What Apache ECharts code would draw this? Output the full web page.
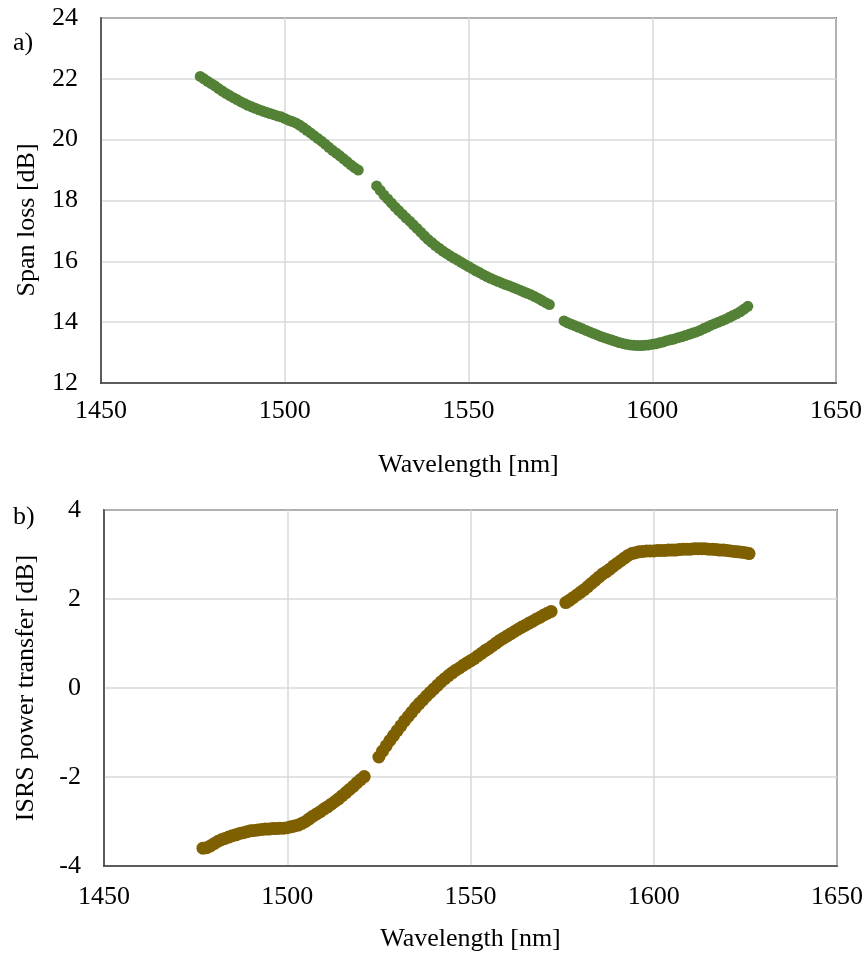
<!DOCTYPE html>
<html>
<head>
<meta charset="utf-8">
<script src="https://cdn.jsdelivr.net/npm/echarts@6/dist/echarts.min.js"></script>
<style>
  html, body { margin: 0; padding: 0; background: #fff; }
  #chart { width: 867px; height: 954px; }
</style>
</head>
<body>
<div id="chart"></div>
<script>
// a) span loss: wavelength [nm] and loss [dB]
var spanWavelength = [
  1477, 1478, 1479, 1480, 1481, 1482, 1483, 1484, 1485, 1486, 1487, 1488, 1489, 1490, 1491,
  1492, 1493, 1494, 1495, 1496, 1497, 1498, 1499, 1500, 1501, 1502, 1503, 1504, 1505, 1506,
  1507, 1508, 1509, 1510, 1511, 1512, 1513, 1514, 1515, 1516, 1517, 1518, 1519, 1520,
  1525, 1526, 1527, 1528, 1529, 1530, 1531, 1532, 1533, 1534, 1535, 1536, 1537, 1538, 1539,
  1540, 1541, 1542, 1543, 1544, 1545, 1546, 1547, 1548, 1549, 1550, 1551, 1552, 1553, 1554,
  1555, 1556, 1557, 1558, 1559, 1560, 1561, 1562, 1563, 1564, 1565, 1566, 1567, 1568, 1569,
  1570, 1571, 1572,
  1576, 1577, 1578, 1579, 1580, 1581, 1582, 1583, 1584, 1585, 1586, 1587, 1588, 1589, 1590,
  1591, 1592, 1593, 1594, 1595, 1596, 1597, 1598, 1599, 1600, 1601, 1602, 1603, 1604, 1605,
  1606, 1607, 1608, 1609, 1610, 1611, 1612, 1613, 1614, 1615, 1616, 1617, 1618, 1619, 1620,
  1621, 1622, 1623, 1624, 1625, 1626
];
var spanLoss = [
  22.08, 22.0, 21.92, 21.84, 21.77, 21.68, 21.6, 21.52, 21.45, 21.38, 21.32, 21.25, 21.19, 21.13, 21.08,
  21.03, 20.98, 20.94, 20.9, 20.86, 20.82, 20.78, 20.75, 20.7, 20.64, 20.6, 20.55, 20.48, 20.4, 20.31,
  20.22, 20.13, 20.04, 19.95, 19.85, 19.75, 19.65, 19.56, 19.47, 19.37, 19.27, 19.17, 19.08, 19.0,
  18.48, 18.33, 18.18, 18.05, 17.92, 17.79, 17.67, 17.55, 17.43, 17.32, 17.2, 17.08, 16.96, 16.84, 16.72,
  16.62, 16.52, 16.43, 16.34, 16.26, 16.18, 16.11, 16.04, 15.97, 15.9, 15.83, 15.76, 15.69, 15.63, 15.56,
  15.5, 15.44, 15.39, 15.34, 15.29, 15.24, 15.2, 15.15, 15.1, 15.05, 15.0, 14.95, 14.9, 14.84, 14.78,
  14.71, 14.64, 14.58,
  14.04, 13.98, 13.93, 13.88, 13.83, 13.78, 13.73, 13.68, 13.63, 13.58, 13.53, 13.49, 13.45, 13.41, 13.37,
  13.33, 13.3, 13.27, 13.25, 13.24, 13.23, 13.23, 13.24, 13.25, 13.27, 13.29, 13.32, 13.35, 13.39, 13.42,
  13.45, 13.49, 13.52, 13.56, 13.6, 13.64, 13.68, 13.73, 13.79, 13.84, 13.9, 13.95, 14.0, 14.05, 14.1,
  14.16, 14.22, 14.28, 14.35, 14.43, 14.52
];

// b) ISRS power transfer: wavelength [nm] and transfer [dB]
var isrsWavelength = [
  1477, 1478, 1479, 1480, 1481, 1482, 1483, 1484, 1485, 1486, 1487, 1488, 1489, 1490, 1491,
  1492, 1493, 1494, 1495, 1496, 1497, 1498, 1499, 1500, 1501, 1502, 1503, 1504, 1505, 1506,
  1507, 1508, 1509, 1510, 1511, 1512, 1513, 1514, 1515, 1516, 1517, 1518, 1519, 1520, 1521,
  1525, 1526, 1527, 1528, 1529, 1530, 1531, 1532, 1533, 1534, 1535, 1536, 1537, 1538, 1539,
  1540, 1541, 1542, 1543, 1544, 1545, 1546, 1547, 1548, 1549, 1550, 1551, 1552, 1553, 1554,
  1555, 1556, 1557, 1558, 1559, 1560, 1561, 1562, 1563, 1564, 1565, 1566, 1567, 1568, 1569,
  1570, 1571, 1572,
  1576, 1577, 1578, 1579, 1580, 1581, 1582, 1583, 1584, 1585, 1586, 1587, 1588, 1589, 1590,
  1591, 1592, 1593, 1594, 1595, 1596, 1597, 1598, 1599, 1600, 1601, 1602, 1603, 1604, 1605,
  1606, 1607, 1608, 1609, 1610, 1611, 1612, 1613, 1614, 1615, 1616, 1617, 1618, 1619, 1620,
  1621, 1622, 1623, 1624, 1625, 1626
];
var isrsTransfer = [
  -3.6, -3.59, -3.55, -3.5, -3.45, -3.41, -3.38, -3.35, -3.32, -3.3, -3.27, -3.25, -3.23, -3.21, -3.2,
  -3.19, -3.18, -3.17, -3.17, -3.16, -3.16, -3.15, -3.15, -3.14, -3.12, -3.1, -3.08, -3.04, -3.0, -2.94,
  -2.88, -2.83, -2.78, -2.72, -2.67, -2.61, -2.55, -2.49, -2.42, -2.35, -2.28, -2.21, -2.13, -2.06, -1.99,
  -1.55, -1.42, -1.3, -1.18, -1.07, -0.96, -0.85, -0.74, -0.64, -0.54, -0.44, -0.35, -0.27, -0.18, -0.1,
  -0.02, 0.06, 0.14, 0.21, 0.28, 0.34, 0.4, 0.45, 0.51, 0.56, 0.61, 0.66, 0.72, 0.78, 0.84,
  0.89, 0.95, 1.01, 1.07, 1.12, 1.17, 1.22, 1.27, 1.32, 1.37, 1.41, 1.46, 1.5, 1.55, 1.59,
  1.64, 1.68, 1.72,
  1.92, 1.97, 2.03, 2.09, 2.15, 2.21, 2.28, 2.35, 2.42, 2.49, 2.56, 2.61, 2.67, 2.74, 2.8,
  2.86, 2.92, 2.98, 3.02, 3.04, 3.06, 3.07, 3.08, 3.08, 3.08, 3.09, 3.09, 3.09, 3.1, 3.1,
  3.1, 3.11, 3.12, 3.12, 3.12, 3.13, 3.13, 3.13, 3.13, 3.12, 3.12, 3.11, 3.1, 3.1, 3.09,
  3.08, 3.07, 3.06, 3.05, 3.04, 3.02
];

function pairs(xs, ys) {
    var out = [];
    for (var i = 0; i < xs.length; i++) out.push([xs[i], ys[i]]);
    return out;
}

var font = 'Liberation Serif';
var fsize = 26;
var chartDom = document.getElementById('chart');
var myChart = echarts.init(chartDom);

function xAxisFor(gridIdx, labelMargin, nameGap) {
    return {
        gridIndex: gridIdx,
        type: 'value',
        min: 1450, max: 1650, interval: 50,
        name: 'Wavelength [nm]',
        nameLocation: 'middle',
        nameGap: nameGap,
        nameTextStyle: { fontFamily: font, fontSize: fsize, color: '#000' },
        axisLine: { show: true, onZero: false, lineStyle: { color: '#404040', width: 1.5 } },
        axisTick: { show: false },
        axisLabel: {
            fontFamily: font, fontSize: fsize, color: '#000', margin: labelMargin,
            formatter: function (v) { return String(v); }
        },
        splitLine: { show: true, lineStyle: { color: '#d9d9d9', width: 1.5 } }
    };
}

function yAxisFor(gridIdx, min, max, interval) {
    return {
        gridIndex: gridIdx,
        type: 'value',
        min: min, max: max, interval: interval,
        axisLine: { show: true, onZero: false, lineStyle: { color: '#404040', width: 1.5 } },
        axisTick: { show: false },
        axisLabel: { fontFamily: font, fontSize: fsize, color: '#000', margin: 23 },
        splitLine: { show: true, lineStyle: { color: '#d9d9d9', width: 1.5 } }
    };
}

function yTitle(text, x, y) {
    return {
        type: 'text',
        x: x, y: y,
        rotation: Math.PI / 2,
        style: {
            text: text, fontFamily: font, fontSize: fsize, fill: '#000',
            align: 'center', verticalAlign: 'middle'
        }
    };
}

var option = {
    animation: false,
    backgroundColor: '#fff',
    title: [
        { text: 'a)', left: 8, top: 25, textStyle: { fontFamily: font, fontSize: fsize, fontWeight: 'normal', color: '#000' } },
        { text: 'b)', left: 8, top: 499, textStyle: { fontFamily: font, fontSize: fsize, fontWeight: 'normal', color: '#000' } }
    ],
    graphic: [
        yTitle('Span loss [dB]', 27, 220),
        yTitle('ISRS power transfer [dB]', 26, 688)
    ],
    grid: [
        { left: 101, top: 18, width: 735, height: 365, show: true, borderColor: '#000', borderWidth: 1.5 },
        { left: 104, top: 510, width: 733, height: 356, show: true, borderColor: '#000', borderWidth: 1.5 }
    ],
    xAxis: [
        xAxisFor(0, 15, 69),
        xAxisFor(1, 18, 60)
    ],
    yAxis: [
        yAxisFor(0, 12, 24, 2),
        yAxisFor(1, -4, 4, 2)
    ],
    series: [
        {
            name: 'Span loss',
            type: 'scatter',
            xAxisIndex: 0, yAxisIndex: 0,
            symbolSize: 11,
            itemStyle: { color: '#538135', opacity: 1 },
            data: pairs(spanWavelength, spanLoss)
        },
        {
            name: 'ISRS power transfer',
            type: 'scatter',
            xAxisIndex: 1, yAxisIndex: 1,
            symbolSize: 13,
            itemStyle: { color: '#7f6000', opacity: 1 },
            data: pairs(isrsWavelength, isrsTransfer)
        }
    ]
};

option && myChart.setOption(option);
</script>
</body>
</html>
